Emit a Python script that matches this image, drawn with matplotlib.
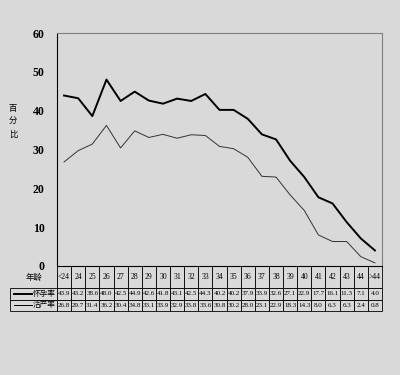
import numpy as np
import matplotlib
matplotlib.use('Agg')
import matplotlib.pyplot as plt
from matplotlib.lines import Line2D

plt.rcParams['font.family'] = ['Liberation Serif', 'Noto Sans CJK SC', 'DejaVu Sans']

ages = ['<24', '24', '25', '26', '27', '28', '29', '30', '31', '32', '33', '34',
        '35', '36', '37', '38', '39', '40', '41', '42', '43', '44', '>44']
preg_rate = [43.9, 43.2, 38.6, 48.0, 42.5, 44.9, 42.6, 41.8, 43.1, 42.5, 44.3, 40.2,
             40.2, 37.9, 33.9, 32.6, 27.1, 22.9, 17.7, 16.1, 11.3, 7.1, 4.0]
live_rate = [26.8, 29.7, 31.4, 36.2, 30.4, 34.8, 33.1, 33.9, 32.9, 33.8, 33.6, 30.8,
             30.2, 28.0, 23.1, 22.9, 18.3, 14.3, 8.0, 6.3, 6.3, 2.4, 0.8]
series_names = ['怀孕率', '活产率']

bg = '#d9d9d9'
fig = plt.figure(figsize=(4, 3.75), dpi=100, facecolor=bg)
ax = fig.add_axes([57/400, 1 - 266/375, 325/400, 233/375], facecolor=bg)

x = np.arange(len(ages))
ax.plot(x, preg_rate, color='black', lw=1.4)
ax.plot(x, live_rate, color='#333333', lw=0.7)

ax.set_xlim(-0.5, len(ages) - 0.5)
ax.set_ylim(0, 60)
ax.set_yticks(range(0, 61, 10))
ax.tick_params(axis='y', length=0, pad=9, labelsize=8.5)
for lab in ax.get_yticklabels():
    lab.set_fontweight('bold')
ax.set_xticks([])
for s in ['top', 'right']:
    ax.spines[s].set_color('#808080')
ax.spines['left'].set_color('black')
ax.spines['bottom'].set_color('black')

# y label stacked characters
ax.text(-0.135, 0.62, '百\n分\n比', transform=ax.transAxes, family='Noto Sans CJK SC',
        fontsize=6, ha='center', va='center', linespacing=1.6)

# data table under the axis
cell_text = [[''] + ['%.1f' % v for v in preg_rate],
             [''] + ['%.1f' % v for v in live_rate]]
col_labels = ['年龄'] + ages
left_w = 47 / 325
tbl = ax.table(cellText=cell_text, colLabels=col_labels, cellLoc='center',
               colWidths=[47] + [325 / len(ages)] * len(ages),
               bbox=[-left_w, -45 / 233, 1 + left_w, 45 / 233])
tbl.auto_set_font_size(False)
for (r, c), cell in tbl.get_celld().items():
    cell.set_facecolor(bg)
    cell.set_linewidth(0.6)
    cell.set_height(22 if r == 0 else 11.5)
    cell.PAD = 0.02
    cell.get_text().set_fontsize(5)
    if r == 0 and c == 0:
        cell.visible_edges = 'R'
        cell.get_text().set_family('Noto Sans CJK SC')
        cell.get_text().set_fontsize(6)
    if r == 0 and c > 0:
        cell.get_text().set_fontsize(5.5)

# legend samples in the first column
for i, (name, lw) in enumerate(zip(series_names, [1.4, 0.7])):
    yc = -(22 + 11.5 * i + 5.75) / 233
    ax.add_line(Line2D([-43/325, -25/325], [yc, yc], transform=ax.transAxes,
                       color='black', lw=lw, clip_on=False))
    ax.text(-13/325, yc, name, transform=ax.transAxes, family='Noto Sans CJK SC',
            fontsize=5.5, ha='center', va='center')

fig.savefig('out.png', dpi=100, facecolor=bg)
